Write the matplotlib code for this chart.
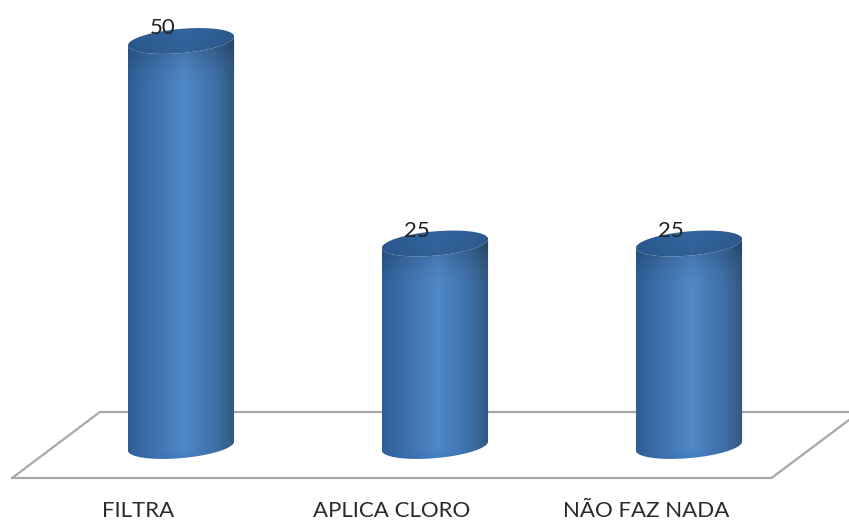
import matplotlib
matplotlib.use("Agg")
import matplotlib.pyplot as plt
import numpy as np
from matplotlib.patches import PathPatch
from matplotlib.path import Path

categories = ["FILTRA", "APLICA CLORO", "NÃO FAZ NADA"]
values = [50, 25, 25]

HALF_W = 0.209   # cylinder half width, category units
CAP_H = 1.5      # cap half height, value units
TILT = 0.55      # caps lean up towards the right

SIDE_X = [0.0, 0.18, 0.52, 0.80, 1.0]
SIDE_RGB = np.array([
    [0x2e, 0x5e, 0x94],
    [0x3a, 0x6d, 0xa8],
    [0x50, 0x88, 0xc8],
    [0x40, 0x72, 0xaa],
    [0x32, 0x58, 0x82],
]) / 255


def ellipse_xy(cx, cy, t):
    return cx + HALF_W * np.cos(t), cy + CAP_H * np.sin(t) + TILT * np.cos(t)


def side_colours(n):
    u = np.linspace(0, 1, n)
    return np.stack([np.interp(u, SIDE_X, SIDE_RGB[:, c]) for c in range(3)], axis=1)


def draw_cylinder(ax, cx, val):
    # body outline: down the left, round the bottom cap, up the right, round the top cap
    t_low = np.linspace(np.pi, 2 * np.pi, 60)
    bx, by = ellipse_xy(cx, 0, t_low)
    t_top = np.linspace(0, -np.pi, 60)
    tx, ty = ellipse_xy(cx, val, t_top)
    verts = np.r_[np.c_[bx, by], np.c_[tx, ty]]
    body = PathPatch(Path(np.r_[verts, verts[:1]], closed=True), fc="none", ec="none")
    ax.add_patch(body)

    rows, cols = 400, 120
    y = np.linspace(val + 3, -3, rows)
    grad = np.repeat(side_colours(cols)[None, :, :], rows, axis=0)
    # darker band just under the top cap, fading out downwards
    shade = np.clip((y - (val - 5.5)) / 5.5, 0, 1)[:, None, None] ** 1.6
    grad = grad * (1 - 0.22 * shade)
    # bottom edge picks up a little blue
    glow = np.clip((-0.3 - y) / 1.5, 0, 1)[:, None, None]
    grad = grad * (1 - 0.4 * glow) + np.array([0.18, 0.42, 0.72]) * 0.4 * glow
    im = ax.imshow(grad, extent=[cx - HALF_W, cx + HALF_W, -3, val + 3],
                   aspect="auto", zorder=3, interpolation="bilinear")
    im.set_clip_path(body)

    # top cap
    t = np.linspace(0, 2 * np.pi, 120)
    cxs, cys = ellipse_xy(cx, val, t)
    cap = PathPatch(Path(np.c_[cxs, cys], closed=False), fc="none", ec="none")
    ax.add_patch(cap)
    cap_rows = np.linspace(1, 0, 40)[:, None, None]
    cap_grad = side_colours(cols)[None, :, :] * 0.25 + np.array([0.17, 0.36, 0.58]) * 0.75
    cap_grad = cap_grad * (0.92 + 0.08 * cap_rows)
    top = ax.imshow(cap_grad, extent=[cx - HALF_W, cx + HALF_W, val - 3, val + 3],
                    aspect="auto", zorder=4, interpolation="bilinear")
    top.set_clip_path(cap)


plt.rcParams["font.family"] = ["Lato", "DejaVu Sans"]

fig = plt.figure(figsize=(8.49, 5.21), dpi=100)
ax = fig.add_axes([0, 0, 1, 1])

# floor of the chart, drawn behind the columns
floor_x = [-0.665, 2.325, 2.672, -0.319, -0.665]
floor_y = [-3.95, -3.95, 4.2, 4.2, -3.95]
ax.plot(floor_x, floor_y, color="#a8a8a8", lw=1.6, zorder=1, solid_joinstyle="miter")

for i, (name, val) in enumerate(zip(categories, values)):
    draw_cylinder(ax, i, val)
    ax.text(i - 0.072, val + 1.6, str(val), ha="center", va="center",
            fontsize=16, color="#222222", zorder=5)
    ax.text(i - 0.17, -8.02, name, ha="center", va="center",
            fontsize=16, color="#2a2a2a", zorder=5)

ax.set_xlim(-0.7126, 2.63)
ax.set_ylim(-9.26, 55.06)
ax.axis("off")

fig.savefig("out.png", dpi=100)
plt.close(fig)
